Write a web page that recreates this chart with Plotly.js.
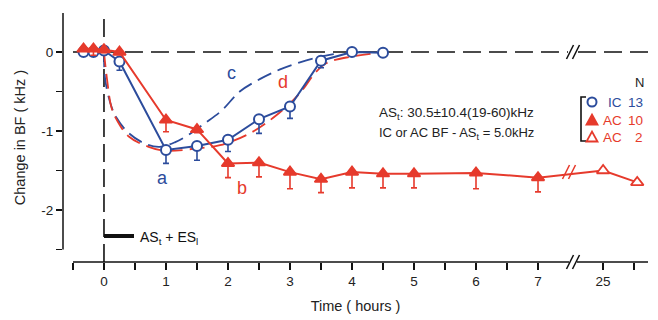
<!DOCTYPE html>
<html><head><meta charset="utf-8">
<script src="https://cdn.plot.ly/plotly-3.0.1.min.js"></script>
<style>body{margin:0;background:#fff}</style>
</head><body><div id="chart" style="width:658px;height:320px"></div>
<script>
// ---- data (hours, change in BF in kHz) ----
const hoursIC  = [-0.33, -0.17, 0, 0.25, 1, 1.5, 2, 2.5, 3, 3.5, 4, 4.5];
const changeIC = [0, 0, 0.02, -0.12, -1.24, -1.19, -1.11, -0.85, -0.69, -0.11, 0.0, -0.01];
const errIC    = [0.03, 0.05, 0.05, 0.11, 0.17, 0.18, 0.15, 0.18, 0.15, 0.09, 0.03, 0.02];

const hoursAC  = [-0.33, -0.17, 0, 0.25, 1, 1.5, 2, 2.5, 3, 3.5, 4, 4.5, 5, 6, 7, 25, 25.55];
const changeAC = [0.04, 0.04, 0.03, 0.0, -0.86, -0.98, -1.41, -1.40, -1.52, -1.61, -1.52, -1.54, -1.54, -1.53, -1.59, -1.50, -1.65];
const errAC    = [0.03, 0.08, 0.04, 0.03, 0.15, 0.04, 0.18, 0.18, 0.21, 0.17, 0.20, 0.18, 0.18, 0.20, 0.18, 0, 0];
const groupAC  = ['AC10','AC10','AC10','AC10','AC10','AC10','AC10','AC10','AC10','AC10','AC10','AC10','AC10','AC10','AC10','AC2','AC2'];

const fitCHours  = [0, 0.02, 0.12, 0.2, 0.39, 0.66, 0.9, 1.15, 1.36, 1.63, 1.9, 2.19, 2.52, 2.84, 3.16, 3.48, 3.75];
const fitCChange = [0, -0.35, -0.69, -0.83, -1.02, -1.16, -1.2, -1.14, -1.05, -0.9, -0.74, -0.5, -0.34, -0.22, -0.13, -0.06, -0.02];
const fitDHours  = [0, 0.05, 0.12, 0.2, 0.4, 0.72, 1.0, 1.5, 1.87, 2.35, 2.78, 3.16, 3.4, 3.59, 3.97, 4.45];
const fitDChange = [0, -0.35, -0.7, -0.85, -1.07, -1.2, -1.25, -1.22, -1.18, -1.03, -0.8, -0.52, -0.27, -0.14, -0.06, -0.01];

const xTickHours  = [0, 1, 2, 3, 4, 5, 6, 7, 25];
const xTickLabels = ['0', '1', '2', '3', '4', '5', '6', '7', '25'];
const xMinorHours = [-0.5, 0.5, 1.5, 2.5, 3.5, 4.5, 5.5, 6.5, 25.5];
const yTickVals   = [0, -1, -2];
const yTickLabels = ['0', '-1', '-2'];
const yMinorVals  = [0.5, -0.5, -1.5, -2.5];

const legendNames = ['IC', 'AC', 'AC'];
const legendN     = ['13', '10', '2'];

// ---- broken time axis: hours after the break are placed just past 7 h ----
const BREAK_AT = 7.5, AFTER_START = 25, AFTER_POS = 8.05;
const vx = h => h <= BREAK_AT ? h : (h - AFTER_START) + AFTER_POS;

const BLUE = '#2c4c9c', RED = '#e63a2c';
const FONT = 'Liberation Sans, Arial, sans-serif';

// plot area in pixels
const L = 63, T = 13, W = 585, H = 249;
const px = X => (X - L) / W;
const py = Y => (T + H - Y) / H;
const XMIN = -0.661, XMAX = 8.774;
const xpx = X => XMIN + (X - L) / W * (XMAX - XMIN);

const traces = [
  {x: fitCHours.map(vx), y: fitCChange, mode: 'lines', line: {color: BLUE, width: 1.8, dash: '15px,7px', shape: 'spline'}, hoverinfo: 'skip'},
  {x: fitDHours.map(vx), y: fitDChange, mode: 'lines', line: {color: RED, width: 1.8, dash: '15px,7px', shape: 'spline'}, hoverinfo: 'skip'},
  {x: hoursIC.map(vx), y: changeIC, mode: 'lines+markers',
   line: {color: BLUE, width: 2},
   marker: {symbol: 'circle', size: 10, color: '#fff', line: {width: 2, color: BLUE}},
   error_y: {type: 'data', symmetric: false, array: hoursIC.map(() => 0), arrayminus: errIC, color: BLUE, thickness: 1.6, width: 3}},
  {x: hoursAC.map(vx), y: changeAC, mode: 'lines+markers',
   line: {color: RED, width: 2},
   marker: {symbol: 'triangle-up', size: 11,
            color: groupAC.map(g => g === 'AC2' ? '#fff' : RED), line: {width: 1.8, color: RED}},
   error_y: {type: 'data', symmetric: false, array: hoursAC.map(() => 0), arrayminus: errAC, color: RED, thickness: 1.6, width: 3}}
];

const shapes = [];
// zero dashed line (broken)
shapes.push({type: 'line', xref: 'x', yref: 'y', x0: -0.5, x1: xpx(568), y0: 0, y1: 0, layer: 'below', line: {color: '#111', width: 1.6, dash: '18px,8px'}});
shapes.push({type: 'line', xref: 'x', yref: 'y', x0: xpx(578), x1: XMAX, y0: 0, y1: 0, layer: 'below', line: {color: '#111', width: 1.6, dash: '18px,8px'}});
// vertical dashed line at time 0
shapes.push({type: 'line', xref: 'x', yref: 'paper', x0: 0, x1: 0, y0: 0, y1: 1, layer: 'below', line: {color: '#111', width: 1.6, dash: '18px,7px'}});
// y axis line
shapes.push({type: 'line', xref: 'paper', yref: 'y', x0: 0, x1: 0, y0: -2.5, y1: 0.5, line: {color: '#111', width: 1.5}});
// x axis line (broken)
shapes.push({type: 'line', xref: 'x', yref: 'paper', x0: -0.5, x1: xpx(569), y0: 0, y1: 0, line: {color: '#111', width: 1.5}});
shapes.push({type: 'line', xref: 'x', yref: 'paper', x0: xpx(577), x1: XMAX, y0: 0, y1: 0, line: {color: '#111', width: 1.5}});
// break marks
function slashes(cx, cy, color) {
  [-3, 3].forEach(o => shapes.push({type: 'line', xref: 'paper', yref: 'paper',
    x0: px(cx + o - 3.5), y0: py(cy + 7), x1: px(cx + o + 3.5), y1: py(cy - 7), line: {color: color, width: 1.5}}));
}
slashes(573, 262, '#111');
slashes(573, 52, '#111');
slashes(569, 172, RED);
// stimulus bar
shapes.push({type: 'line', xref: 'x', yref: 'paper', x0: 0, x1: xpx(134), y0: py(236), y1: py(236), line: {color: '#111', width: 4}});
// legend bracket
shapes.push({type: 'path', xref: 'paper', yref: 'paper',
  path: `M ${px(586)} ${py(97)} L ${px(581)} ${py(97)} L ${px(581)} ${py(141)} L ${px(586)} ${py(141)}`,
  line: {color: '#111', width: 1.6}});

// legend glyphs
const rowY = [102, 120, 137];
const GX = 592;
shapes.push({type: 'circle', xref: 'paper', yref: 'paper',
  x0: px(GX - 4.5), x1: px(GX + 4.5), y0: py(rowY[0] + 4.5), y1: py(rowY[0] - 4.5),
  line: {color: BLUE, width: 2}, fillcolor: '#fff'});
function tri(cy, fill) {
  shapes.push({type: 'path', xref: 'paper', yref: 'paper',
    path: `M ${px(GX - 5.5)} ${py(cy + 4.5)} L ${px(GX + 5.5)} ${py(cy + 4.5)} L ${px(GX)} ${py(cy - 5.5)} Z`,
    line: {color: RED, width: 1.8}, fillcolor: fill});
}
tri(rowY[1], RED);
tri(rowY[2], '#fff');

const annotations = [];
function txt(text, X, Y, color, size, anchor) {
  annotations.push({text: text, xref: 'paper', yref: 'paper', x: px(X), y: py(Y), xanchor: anchor || 'center', yanchor: 'middle',
    showarrow: false, font: {family: FONT, size: size, color: color}});
}
txt('a', 162, 178, BLUE, 18);
txt('b', 242, 188, RED, 18);
txt('c', 231, 73, BLUE, 18);
txt('d', 283, 82, RED, 18);
txt('AS<sub>t</sub>: 30.5±10.4(19-60)kHz', 377, 113, '#222', 13.5, 'left');
txt('IC or AC BF - AS<sub>t</sub> = 5.0kHz', 377, 133, '#222', 13, 'left');
txt('AS<sub>t</sub> + ES<sub>l</sub>', 138, 238, '#111', 14, 'left');
txt('N', 639, 82, '#222', 13);
const legColors = [BLUE, RED, RED];
legendNames.forEach((n, i) => {
  txt(n, 624, rowY[i], legColors[i], 13.5, 'right');
  txt(legendN[i], 645, rowY[i], legColors[i], 13.5, 'right');
});

const tickStyle = {ticks: 'outside', tickwidth: 1.5, tickcolor: '#111'};
const layout = {
  width: 658, height: 320,
  margin: {l: L, r: 658 - L - W, t: T, b: 320 - T - H},
  paper_bgcolor: '#fff', plot_bgcolor: 'rgba(0,0,0,0)',
  showlegend: false,
  font: {family: FONT, color: '#222'},
  xaxis: Object.assign({range: [XMIN, XMAX], showgrid: false, zeroline: false, showline: false,
    tickmode: 'array', tickvals: xTickHours.map(vx), ticktext: xTickLabels, ticklen: 7,
    minor: Object.assign({tickmode: 'array', tickvals: xMinorHours.map(vx), ticklen: 7, showgrid: false}, tickStyle),
    tickfont: {family: FONT, size: 13.5, color: '#222'},
    title: {text: 'Time ( hours )', font: {family: FONT, size: 14.5, color: '#222'}, standoff: 12}}, tickStyle),
  yaxis: Object.assign({range: [-2.658, 0.494], showgrid: false, zeroline: false, showline: false,
    tickmode: 'array', tickvals: yTickVals, ticktext: yTickLabels, ticklen: 6,
    minor: Object.assign({tickmode: 'array', tickvals: yMinorVals, ticklen: 6, showgrid: false}, tickStyle),
    tickfont: {family: FONT, size: 13.5, color: '#222'},
    title: {text: 'Change in BF ( kHz )', font: {family: FONT, size: 14.5, color: '#222'}, standoff: 12}}, tickStyle),
  shapes: shapes,
  annotations: annotations
};

Plotly.newPlot('chart', traces, layout, {displayModeBar: false, staticPlot: true});
</script></body></html>
